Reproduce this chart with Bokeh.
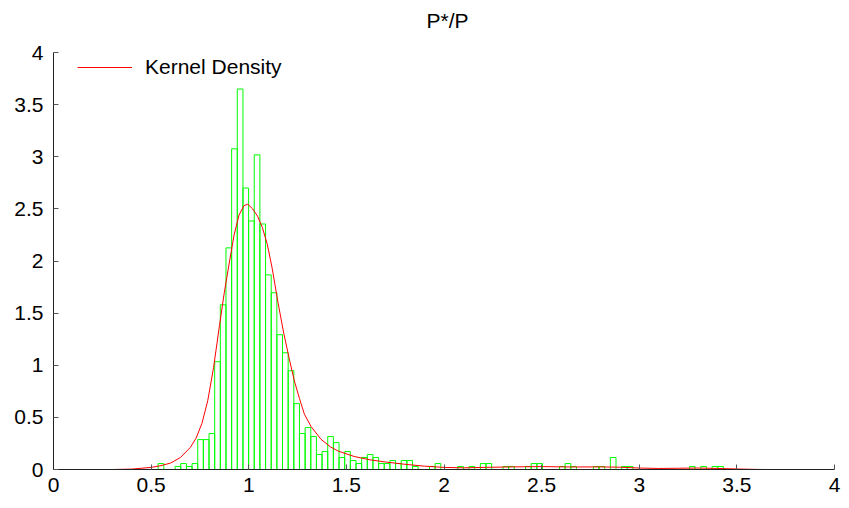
import numpy as np
from bokeh.plotting import figure
from bokeh.models import Legend, LegendItem, Range1d, FixedTicker, Label
from bokeh.embed import file_html
from bokeh.resources import INLINE

# ---- data ----
bin_min = 0.536
bin_max = 3.431
n_bins = 100
density = [
    0.057, 0.0, 0.0, 0.029, 0.057, 0.029, 0.057, 0.287, 0.287, 0.345,
    1.034, 1.580, 2.126, 3.076, 3.650, 2.700, 2.384, 3.018, 2.355, 1.867,
    1.695, 1.293, 1.120, 0.948, 0.632, 0.345, 0.402, 0.316, 0.144, 0.172,
    0.316, 0.258, 0.115, 0.172, 0.086, 0.057, 0.115, 0.144, 0.115, 0.057,
    0.057, 0.086, 0.057, 0.086, 0.086, 0.029, 0.0, 0.0, 0.029, 0.057,
    0.0, 0.0, 0.0, 0.029, 0.0, 0.029, 0.0, 0.057, 0.057, 0.0,
    0.0, 0.029, 0.029, 0.0, 0.0, 0.029, 0.057, 0.057, 0.0, 0.0,
    0.0, 0.029, 0.057, 0.029, 0.0, 0.0, 0.0, 0.029, 0.029, 0.0,
    0.115, 0.0, 0.029, 0.029, 0.0, 0.0, 0.0, 0.0, 0.0, 0.0,
    0.0, 0.0, 0.0, 0.0, 0.029, 0.0, 0.029, 0.0, 0.029, 0.029,
]
kde_x = [0.30, 0.40, 0.50, 0.55, 0.60, 0.65, 0.70, 0.73, 0.76, 0.79,
         0.82, 0.85, 0.875, 0.90, 0.925, 0.95, 0.975, 0.995, 1.02, 1.045,
         1.07, 1.095, 1.12, 1.15, 1.18, 1.21, 1.235, 1.26, 1.285, 1.32,
         1.37, 1.42, 1.46, 1.54, 1.62, 1.70, 1.80, 1.90, 2.00, 2.10,
         2.20, 2.35, 2.50, 2.65, 2.80, 2.90, 3.00, 3.10, 3.20, 3.30,
         3.40, 3.50, 3.60, 3.65]
kde_y = [0.0, 0.004, 0.02, 0.037, 0.062, 0.115, 0.21, 0.30, 0.44, 0.66,
         0.98, 1.38, 1.70, 1.98, 2.25, 2.44, 2.53, 2.545, 2.50, 2.43,
         2.32, 2.16, 1.93, 1.60, 1.30, 1.04, 0.84, 0.68, 0.53, 0.41,
         0.29, 0.215, 0.175, 0.125, 0.093, 0.072, 0.05, 0.032, 0.02, 0.016,
         0.02, 0.025, 0.028, 0.024, 0.025, 0.022, 0.014, 0.010, 0.012, 0.014,
         0.010, 0.005, 0.001, 0.0]
title_text = "P*/P"
legend_text = "Kernel Density"
ticks = [0, 0.5, 1, 1.5, 2, 2.5, 3, 3.5, 4]

edges = np.linspace(bin_min, bin_max, n_bins + 1)
centers = (edges[:-1] + edges[1:]) / 2
bw = edges[1] - edges[0]

FONT = "Liberation Sans"

p = figure(width=849, height=508, output_backend="svg", toolbar_location=None,
           x_range=Range1d(0, 4), y_range=Range1d(0, 4),
           min_border_left=53, min_border_right=15, min_border_top=52,
           min_border_bottom=39, background_fill_color="white",
           border_fill_color="white")
p.outline_line_color = None
p.grid.visible = False

p.vbar(x=centers, width=bw, top=density, bottom=0, fill_color=None,
       line_color="#00ff00", line_width=1)
r = p.line(kde_x, kde_y, line_color="#ff0000", line_width=1)

for ax in (p.xaxis[0], p.yaxis[0]):
    ax.ticker = FixedTicker(ticks=ticks)
    ax.major_label_overrides = {0: "0", 0.5: "0.5", 1: "1", 1.5: "1.5", 2: "2",
                                2.5: "2.5", 3: "3", 3.5: "3.5", 4: "4"}
    ax.axis_line_color = "#222222"
    ax.axis_line_width = 1
    ax.major_tick_line_color = "#555555"
    ax.major_tick_in = 5
    ax.major_tick_out = 0
    ax.minor_tick_line_color = None
    ax.major_label_text_font = FONT
    ax.major_label_text_font_size = "21px"
    ax.major_label_text_color = "black"
p.xaxis.major_label_standoff = 8
p.yaxis.major_label_standoff = 10

title = Label(x=394, y=32, x_units="screen", y_units="screen",
              text=title_text, text_align="center", text_baseline="middle",
              text_font=FONT, text_font_size="21px", text_color="black")
p.add_layout(title, "above")

legend = Legend(items=[LegendItem(label=legend_text, renderers=[r])],
                location=(24, 390), padding=0, margin=0, spacing=0,
                glyph_width=55, glyph_height=24, label_height=24,
                label_standoff=13, label_text_font=FONT,
                label_text_font_size="21px", label_text_color="black",
                border_line_color=None, background_fill_alpha=0)
p.add_layout(legend)

open("out.html", "w").write(file_html(p, INLINE))
